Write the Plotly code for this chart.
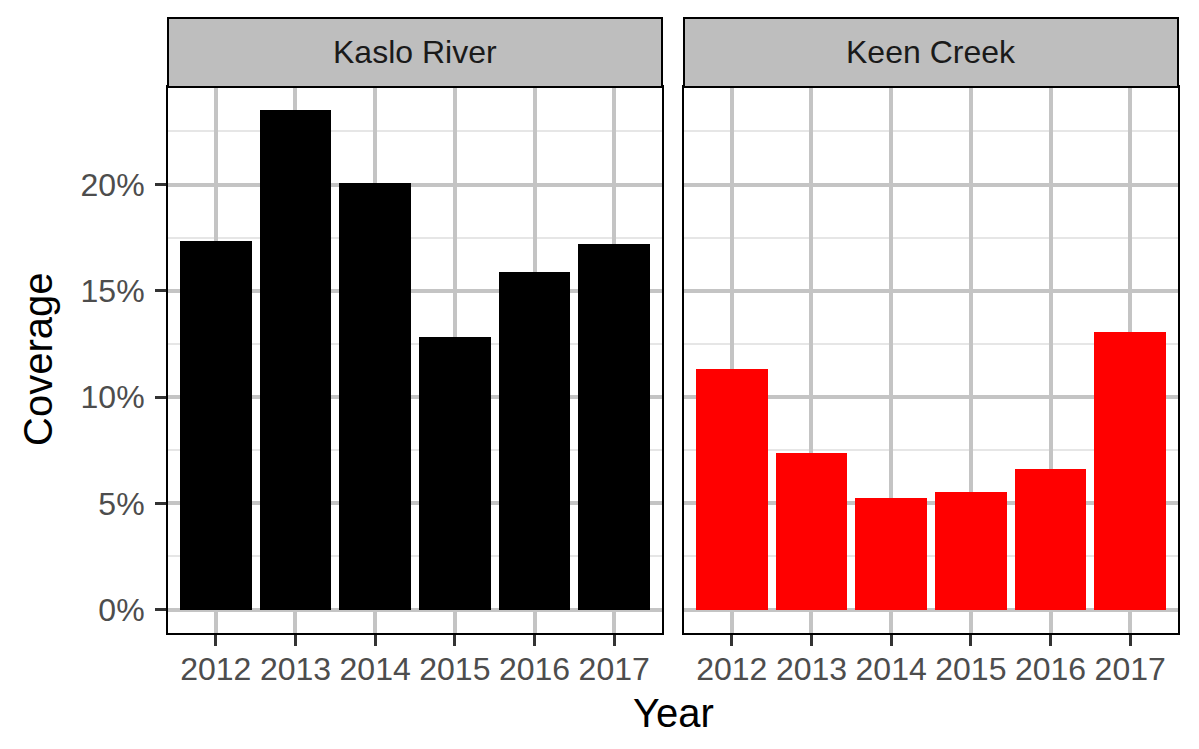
import plotly.graph_objects as go

years = ["2012", "2013", "2014", "2015", "2016", "2017"]
kaslo = [0.1733, 0.2349, 0.2006, 0.1284, 0.1591, 0.1719]
keen = [0.1133, 0.0737, 0.0525, 0.0553, 0.0662, 0.1308]
panels = ["Kaslo River", "Keen Creek"]
colors = ["#000000", "#FF0000"]

W, H = 1199, 749
def px(x):
    return x / W
def py(y):
    return (H - y) / H

p1 = (168, 662)
p2 = (684, 1178)
top, bottom, strip_top = 87, 633, 18

fig = go.Figure()
fig.add_trace(go.Bar(x=years, y=kaslo, marker=dict(color=colors[0], line=dict(width=0)),
                     width=0.9, xaxis="x", yaxis="y", showlegend=False))
fig.add_trace(go.Bar(x=years, y=keen, marker=dict(color=colors[1], line=dict(width=0)),
                     width=0.9, xaxis="x2", yaxis="y2", showlegend=False))

ymax = max(max(kaslo), max(keen))
yr = [-0.047 * ymax, ymax * 1.047]

font_family = "Liberation Sans, Arial, sans-serif"
xcommon = dict(type="category", range=[-0.6, 5.6], showgrid=True, gridcolor="#C4C4C4",
               gridwidth=3.5, ticks="outside", ticklen=11, tickwidth=3, tickcolor="#333333",
               ticklabelstandoff=-4,
               tickfont=dict(size=32, color="#4D4D4D", family=font_family),
               showline=True, mirror=True, linecolor="#000000", linewidth=2, zeroline=False)
ycommon = dict(range=yr, dtick=0.05, tickformat=".0%", showgrid=True, gridcolor="#C4C4C4",
               gridwidth=3.5, zeroline=False, showline=True, mirror=True,
               linecolor="#000000", linewidth=2,
               minor=dict(dtick=0.025, showgrid=True, gridcolor="#E6E6E6", gridwidth=1.8))

fig.update_layout(
    width=W, height=H, margin=dict(l=0, r=0, t=0, b=0),
    paper_bgcolor="white", plot_bgcolor="white", bargap=0,
    font=dict(family=font_family),
    xaxis=dict(domain=[px(p1[0]), px(p1[1])], anchor="y", **xcommon),
    xaxis2=dict(domain=[px(p2[0]), px(p2[1])], anchor="y2", **xcommon),
    yaxis=dict(domain=[py(bottom), py(top)], anchor="x", ticks="outside", ticklen=11,
               tickwidth=3, tickcolor="#333333", ticklabelstandoff=4,
               tickfont=dict(size=32, color="#4D4D4D", family=font_family), **ycommon),
    yaxis2=dict(domain=[py(bottom), py(top)], anchor="x2", matches="y", showticklabels=False,
                ticks="", **ycommon),
)

shapes = []
annotations = []
for (x0, x1), name in zip([p1, p2], panels):
    shapes.append(dict(type="rect", xref="paper", yref="paper", x0=px(x0), x1=px(x1),
                       y0=py(top), y1=py(strip_top), fillcolor="#BEBEBE",
                       line=dict(color="#000000", width=2), layer="above"))
    annotations.append(dict(text=name, xref="paper", yref="paper", x=px((x0 + x1) / 2),
                            y=py((top + strip_top) / 2), xanchor="center", yanchor="middle",
                            showarrow=False, font=dict(size=32, color="#1A1A1A", family=font_family)))

annotations.append(dict(text="Year", xref="paper", yref="paper", x=px((p1[0] + p2[1]) / 2),
                        y=py(713), xanchor="center", yanchor="middle", showarrow=False,
                        font=dict(size=40, color="#000000", family=font_family)))
annotations.append(dict(text="Coverage", xref="paper", yref="paper", x=px(38),
                        y=py((top + bottom) / 2), xanchor="center", yanchor="middle",
                        textangle=-90, showarrow=False,
                        font=dict(size=40, color="#000000", family=font_family)))

fig.update_layout(shapes=shapes, annotations=annotations)
fig.write_html("out.html")
